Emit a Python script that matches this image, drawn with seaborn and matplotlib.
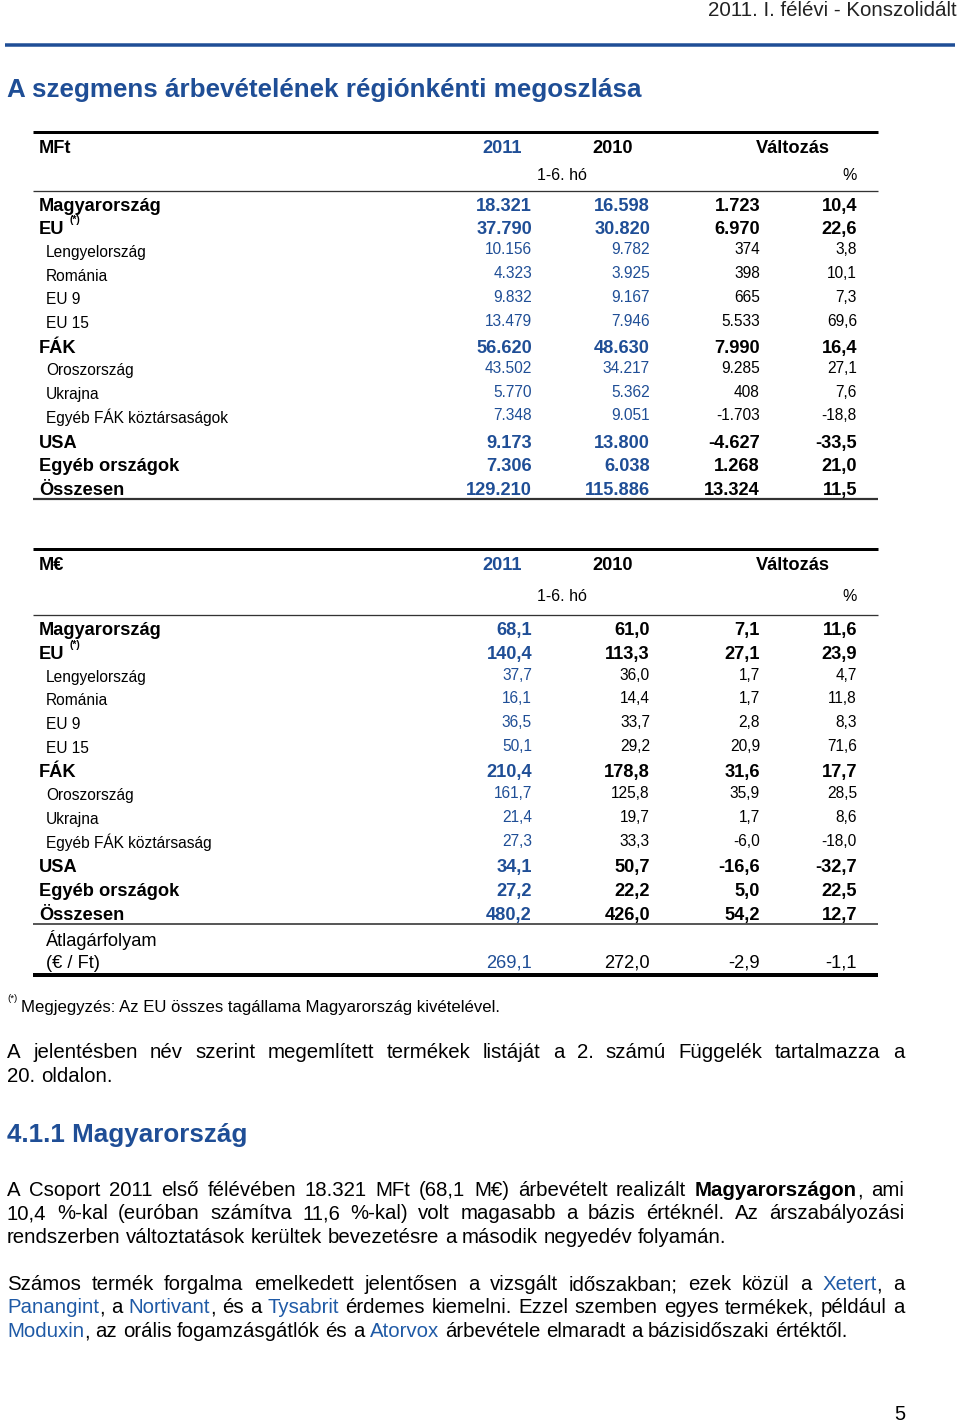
import re
import numpy as np
import pandas as pd
import matplotlib
matplotlib.use("Agg")
import matplotlib.pyplot as plt
import seaborn as sns

sns.set_theme(style="white")
plt.rcParams["font.family"] = ["Liberation Sans", "DejaVu Sans"]

BLUE = "#1f4e96"
LINK = "#1f5aa6"

# ---- data ----
labels_mft = ["Magyarország", "EU", "Lengyelország", "Románia", "EU 9", "EU 15", "FÁK",
              "Oroszország", "Ukrajna", "Egyéb FÁK köztársaságok", "USA", "Egyéb országok", "Összesen"]
labels_eur = ["Magyarország", "EU", "Lengyelország", "Románia", "EU 9", "EU 15", "FÁK",
              "Oroszország", "Ukrajna", "Egyéb FÁK köztársaság", "USA", "Egyéb országok", "Összesen"]
is_bold = [1, 1, 0, 0, 0, 0, 1, 0, 0, 0, 1, 1, 1]

mft_2011 = [18321, 37790, 10156, 4323, 9832, 13479, 56620, 43502, 5770, 7348, 9173, 7306, 129210]
mft_2010 = [16598, 30820, 9782, 3925, 9167, 7946, 48630, 34217, 5362, 9051, 13800, 6038, 115886]
mft_diff = [1723, 6970, 374, 398, 665, 5533, 7990, 9285, 408, -1703, -4627, 1268, 13324]
mft_pct = [10.4, 22.6, 3.8, 10.1, 7.3, 69.6, 16.4, 27.1, 7.6, -18.8, -33.5, 21.0, 11.5]

eur_2011 = [68.1, 140.4, 37.7, 16.1, 36.5, 50.1, 210.4, 161.7, 21.4, 27.3, 34.1, 27.2, 480.2]
eur_2010 = [61.0, 113.3, 36.0, 14.4, 33.7, 29.2, 178.8, 125.8, 19.7, 33.3, 50.7, 22.2, 426.0]
eur_diff = [7.1, 27.1, 1.7, 1.7, 2.8, 20.9, 31.6, 35.9, 1.7, -6.0, -16.6, 5.0, 54.2]
eur_pct = [11.6, 23.9, 4.7, 11.8, 8.3, 71.6, 17.7, 28.5, 8.6, -18.0, -32.7, 22.5, 12.7]

rate_label = ["Átlagárfolyam", "(€ / Ft)"]
rate_vals = [269.1, 272.0, -2.9, -1.1]

col_heads = ["2011", "2010", "Változás"]
period = "1-6. hó"

df_mft = pd.DataFrame({"label": labels_mft, "bold": is_bold, "y2011": mft_2011,
                       "y2010": mft_2010, "diff": mft_diff, "pct": mft_pct})
df_eur = pd.DataFrame({"label": labels_eur, "bold": is_bold, "y2011": eur_2011,
                       "y2010": eur_2010, "diff": eur_diff, "pct": eur_pct})


def fmt_int(v):
    return f"{v:,}".replace(",", ".")


def fmt_dec(v):
    return f"{v:.1f}".replace(".", ",")


# ---- page ----
fig = plt.figure(figsize=(9.6, 14.24), dpi=100)
ax = fig.add_axes([0, 0, 1, 1])
ax.set_xlim(0, 960)
ax.set_ylim(1424, 0)
ax.set_axis_off()
renderer = fig.canvas.get_renderer()


def put(x, y, s, size, bold=False, color="black", ha="left"):
    return ax.text(x, y + 0.36 * size, s, fontsize=size * 0.72,
                   fontweight="bold" if bold else "normal", color=color, ha=ha, va="baseline")


def rule(y, x0, x1, lw_px, color="black"):
    ax.hlines(y, x0, x1, color=color, linewidth=lw_px * 0.72)


put(957, 9, "2011. I. félévi - Konszolidált", 20.5, ha="right", color="#222222")
rule(45, 5, 955, 3.5, BLUE)
put(7, 88, "A szegmens árbevételének régiónkénti megoszlása", 26, bold=True, color=BLUE)

cols_x = [532, 650, 760, 857]


def draw_header(top, unit):
    rule(top, 33, 878, 3)
    put(39, top + 14, unit, 18.3, bold=True)
    put(502, top + 14, col_heads[0], 18.3, bold=True, color=BLUE, ha="center")
    put(613, top + 14, col_heads[1], 18.3, bold=True, ha="center")
    put(793, top + 14, col_heads[2], 18.3, bold=True, ha="center")


step = 23.7

# table 1 (MFt)
draw_header(132, "MFt")
put(562, 174, period, 16, ha="center")
put(857, 174, "%", 16, ha="right")
rule(191, 33, 878, 1.3, "#333333")
y0 = 204
for i, r in df_mft.iterrows():
    y = y0 + i * step
    b = bool(r["bold"])
    sz = 18.3 if b else 15.5
    lx = 39 if b else 46
    put(lx, y, r["label"], sz, bold=b)
    if r["label"] == "EU":
        put(69, y - 8, "(*)", 10.5, bold=b)
    vy = y if b else y - 2.5
    put(cols_x[0], vy, fmt_int(r["y2011"]), sz, bold=b, color=BLUE, ha="right")
    put(cols_x[1], vy, fmt_int(r["y2010"]), sz, bold=b, color=BLUE, ha="right")
    put(cols_x[2], vy, fmt_int(r["diff"]), sz, bold=b, ha="right")
    put(cols_x[3], vy, fmt_dec(r["pct"]), sz, bold=b, ha="right")
rule(499, 33, 878, 2.2, "#333333")

# table 2 (M€)
draw_header(549, "M€")
put(562, 595, period, 16, ha="center")
put(857, 595, "%", 16, ha="right")
rule(615, 33, 878, 1.3, "#333333")
y0 = 628.7
for i, r in df_eur.iterrows():
    y = y0 + i * step
    b = bool(r["bold"])
    sz = 18.3 if b else 15.5
    lx = 39 if b else 46
    put(lx, y, r["label"], sz, bold=b)
    if r["label"] == "EU":
        put(69, y - 8, "(*)", 10.5, bold=b)
    vy = y if b else y - 2
    put(cols_x[0], vy, fmt_dec(r["y2011"]), sz, bold=b, color=BLUE, ha="right")
    put(cols_x[1], vy, fmt_dec(r["y2010"]), sz, bold=b, ha="right")
    put(cols_x[2], vy, fmt_dec(r["diff"]), sz, bold=b, ha="right")
    put(cols_x[3], vy, fmt_dec(r["pct"]), sz, bold=b, ha="right")
rule(924, 33, 878, 1.5, "#222222")
put(46, 939, rate_label[0], 18.3)
put(46, 961, rate_label[1], 18.3)
for j, v in enumerate(rate_vals):
    put(cols_x[j], 961, fmt_dec(v), 18.3, color=BLUE if j == 0 else "black", ha="right")
rule(975, 33, 878, 4)

# footnote
put(7, 998, "(*)", 9.5)
put(21, 1006, "Megjegyzés: Az EU összes tagállama Magyarország kivételével.", 16.7)


# ---- justified paragraphs ----
PSIZE = 20.4


def measure(s, bold):
    t = ax.text(0, 0, s, fontsize=PSIZE * 0.72, fontweight="bold" if bold else "normal")
    w = t.get_window_extent(renderer).width
    t.remove()
    return w


SPACE = measure("a a", False) - measure("aa", False)


def pieces(word):
    out = []
    for p in re.split(r"(\[[^\]]+\]|\*[^*]+\*)", word):
        if not p:
            continue
        if p.startswith("["):
            out.append((p[1:-1], False, LINK))
        elif p.startswith("*"):
            out.append((p[1:-1], True, "black"))
        else:
            out.append((p, False, "black"))
    return out


def para_line(y, line, justify, left=7, right=904):
    words = [pieces(w) for w in line.split(" ")]
    widths = [sum(measure(s, b) for s, b, c in w) for w in words]
    if justify and len(words) > 1:
        gap = (right - left - sum(widths)) / (len(words) - 1)
    else:
        gap = SPACE
    x = left
    for w, wd in zip(words, widths):
        xx = x
        for s, b, c in w:
            put(xx, y, s, PSIZE, bold=b, color=c)
            xx += measure(s, b)
        x += wd + gap


para_line(1051, "A jelentésben név szerint megemlített termékek listáját a 2. számú Függelék tartalmazza a", True)
para_line(1075, "20. oldalon.", False)

put(7, 1133, "4.1.1 Magyarország", 26, bold=True, color=BLUE)

para_line(1189, "A Csoport 2011 első félévében 18.321 MFt (68,1 M€) árbevételt realizált *Magyarországon*, ami", True)
para_line(1212, "10,4 %-kal (euróban számítva 11,6 %-kal) volt magasabb a bázis értéknél. Az árszabályozási", True)
para_line(1236, "rendszerben változtatások kerültek bevezetésre a második negyedév folyamán.", False)

para_line(1283, "Számos termék forgalma emelkedett jelentősen a vizsgált időszakban; ezek közül a [Xetert], a", True)
para_line(1306, "[Panangint], a [Nortivant], és a [Tysabrit] érdemes kiemelni. Ezzel szemben egyes termékek, például a", True)
para_line(1330, "[Moduxin], az orális fogamzásgátlók és a [Atorvox] árbevétele elmaradt a bázisidőszaki értéktől.", False)

put(905, 1413, "5", 20, ha="right")

fig.savefig("out.png", dpi=100)
